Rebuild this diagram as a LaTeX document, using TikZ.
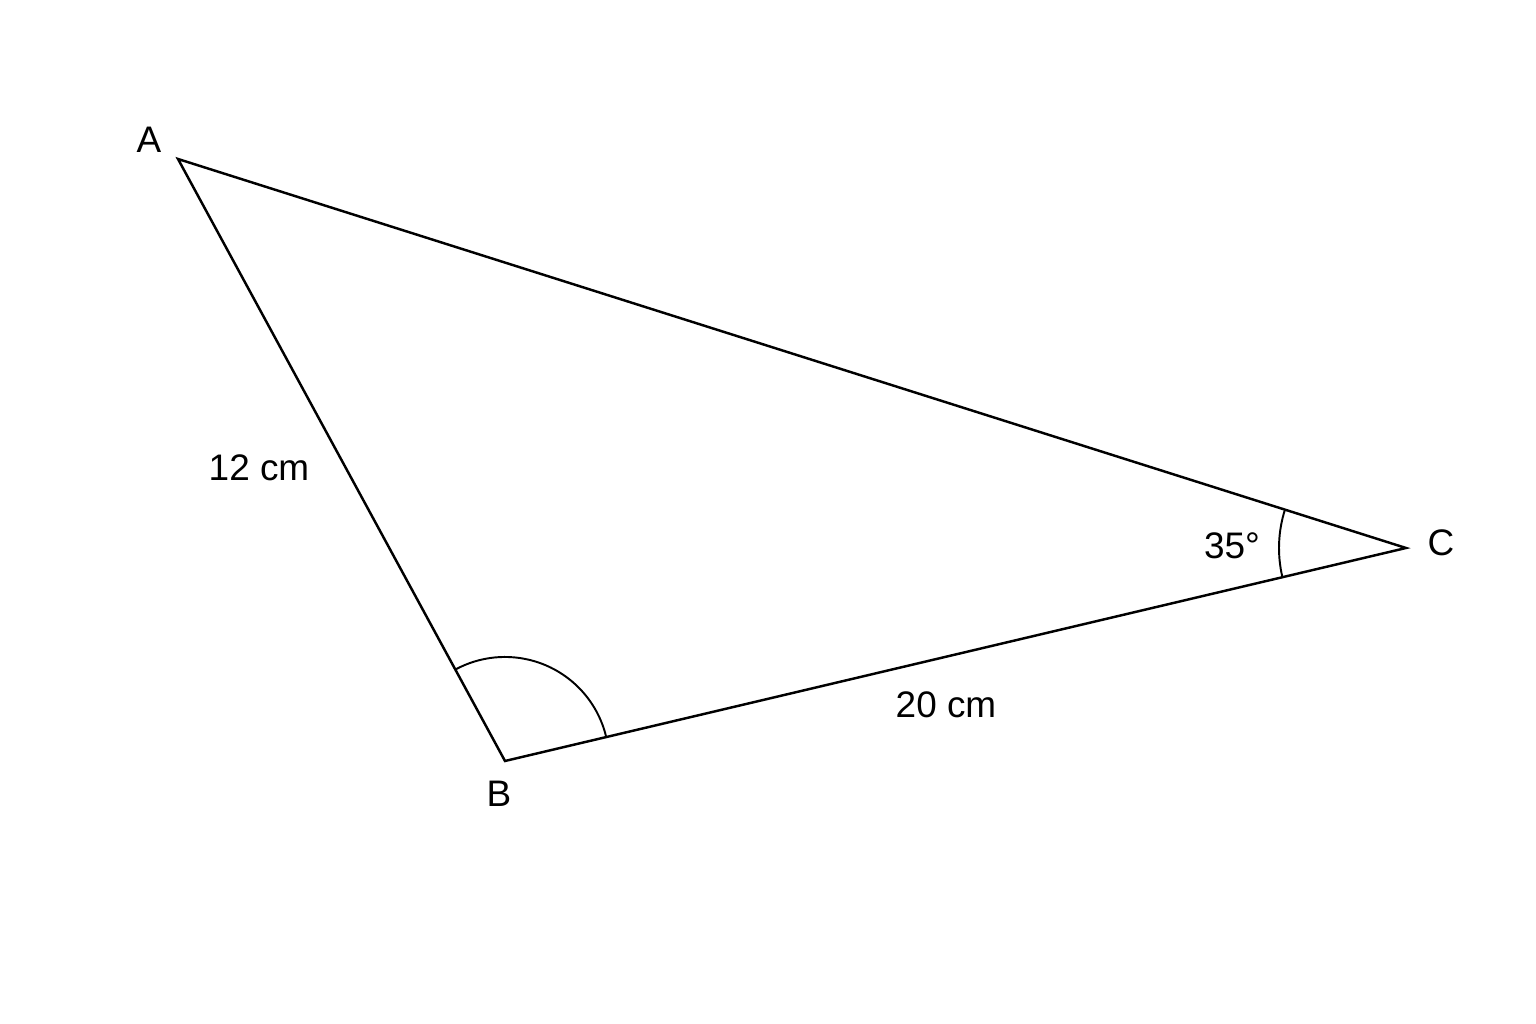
\documentclass[tikz,border=0pt]{standalone}
\usepackage{fontspec}
\setmainfont{Liberation Sans}
\begin{document}
\begin{tikzpicture}[x=0.01cm, y=0.01cm,
  side/.style={line width=0.7pt, line join=miter},
  anglearc/.style={line width=0.55pt},
  lbl/.style={font=\fontsize{10.5}{12}\selectfont, inner sep=0pt}]
\useasboundingbox (0,0) rectangle (1536,1024);
\coordinate (A) at (178,865);
\coordinate (B) at (505,263);
\coordinate (C) at (1406,476);
\draw[side] (A) -- (B) -- (C) -- cycle;
\draw[anglearc] (B) ++(13.3:104) arc[start angle=13.3, end angle=118.5, radius=1.04cm];
\draw[anglearc] (C) ++(162.4:127) arc[start angle=162.4, end angle=193.3, radius=1.27cm];
\node[lbl] (la) at (149,884) {A};
\node[lbl] (lb) at (499,230) {B};
\node[lbl] (lc) at (1441,481) {C};
\node[lbl] (lab) at (259,556) {12 cm};
\node[lbl] (lbc) at (946,319) {20 cm};
\node[lbl] (lang) at (1232,478) {35°};
\end{tikzpicture}
\end{document}
